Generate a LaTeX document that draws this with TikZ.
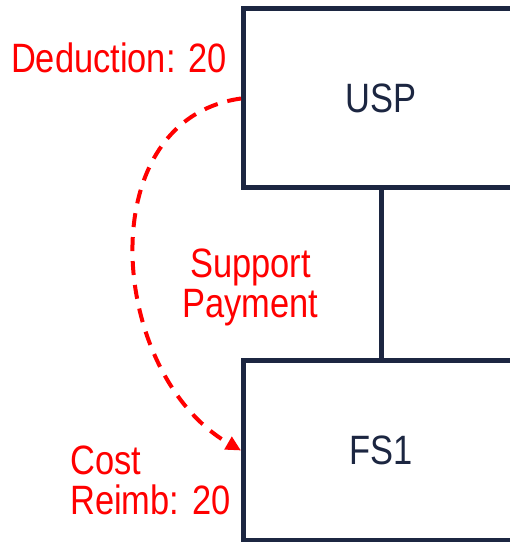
\documentclass[tikz,border=0pt]{standalone}
\usepackage{fontspec}
\newfontfamily\diagfont[FakeStretch=0.84]{Liberation Sans}
\usetikzlibrary{arrows.meta}

\definecolor{navy}{RGB}{28,38,65}
\definecolor{flowred}{RGB}{255,0,0}

\tikzset{
  entity/.style = {draw = navy, line width = 5pt, fill = white,
    minimum width = 275pt, minimum height = 179pt, inner sep = 0pt,
    text = navy, font = \diagfont\fontsize{41}{40}\selectfont},
  flowlabel/.style = {text = flowred, inner sep = 0pt,
    font = \diagfont\fontsize{41}{40}\selectfont},
  flowline/.style = {draw = flowred, line width = 4pt,
    dash pattern = on 14pt off 10pt,
    -{Triangle[length = 15pt, width = 14pt]}}
}

\begin{document}
\begin{tikzpicture}[x = 1pt, y = 1pt]
  \useasboundingbox (0, 0) rectangle (510, 542);

  \node[entity] (usp) at (381, 443.5) {USP};
  \node[entity, minimum height = 180pt] (fs1) at (381, 91.5) {FS1};
  \draw[navy, line width = 5pt] (usp.south) -- (fs1.north);

  % cost flowing from the parent down to the subsidiary
  \draw[flowline] (usp.west) to[out = 188, in = 150, looseness = 1.12] (fs1.west);

  \node[flowlabel, anchor = base east] (deduct) at (227, 469) {Deduction: 20};
  \node[flowlabel, align = center] (payment) at (250.5, 255) {Support\\Payment};
  \node[flowlabel, align = left, anchor = west] (reimb) at (70, 62) {Cost\\Reimb: 20};
\end{tikzpicture}
\end{document}
